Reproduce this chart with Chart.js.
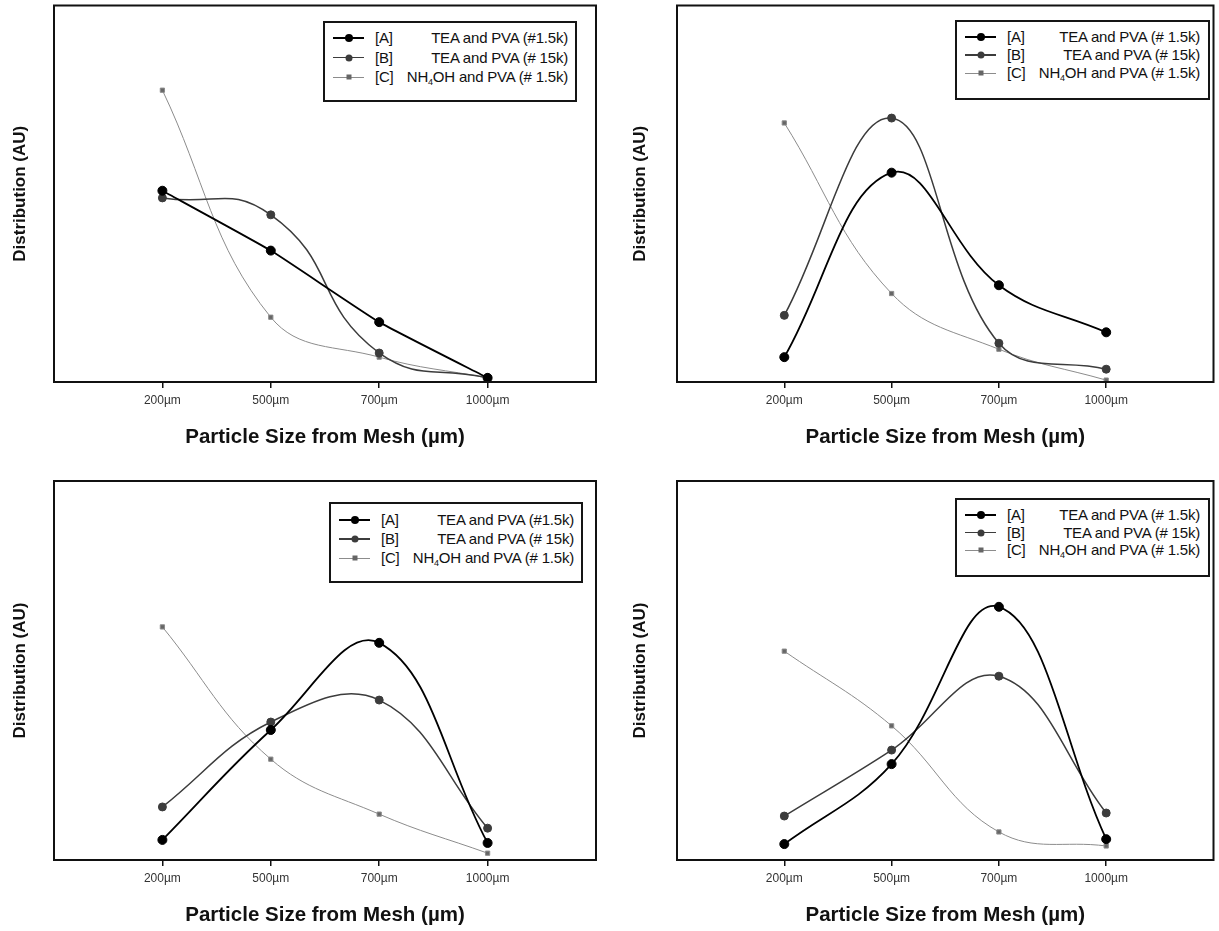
<!DOCTYPE html>
<html>
<head>
<meta charset="utf-8">
<script src="https://cdn.jsdelivr.net/npm/chart.js@4.4.1/dist/chart.umd.min.js"></script>
<style>
  body { margin: 0; background: #fff; font-family: "Liberation Sans", Arial, sans-serif; }
  .panel { position: absolute; }
  .legend { position: absolute; border: 2px solid #151515; background: #fff; box-sizing: border-box; font-size: 15px; color: #111; }
  .sample { position: absolute; }
  .sample .ln { position: absolute; left: 0; right: 0; top: 50%; }
  .sample .mk { position: absolute; left: 50%; top: 50%; transform: translate(-50%, -50%); border-radius: 50%; }
  .txt { position: absolute; display: flex; justify-content: space-between; white-space: pre; line-height: 18px; letter-spacing: -0.2px; }
  sub { font-size: 9px; vertical-align: -3px; line-height: 0; }
</style>
</head>
<body>
<div class="panel" style="left:0;top:0"><canvas id="c1" width="610" height="460"></canvas></div>
<div class="panel" style="left:620px;top:0"><canvas id="c2" width="599" height="460"></canvas></div>
<div class="panel" style="left:0;top:465px"><canvas id="c3" width="610" height="466"></canvas></div>
<div class="panel" style="left:620px;top:465px"><canvas id="c4" width="599" height="466"></canvas></div>
<script>
// x categories (mesh sizes)
const sizeLabels = ['200µm', '500µm', '700µm', '1000µm'];
const seriesTags = ['[A]', '[B]', '[C]'];

// distribution values (arbitrary units, 0 = axis, 100 = top of box)
// top left
const p1A = [50.8, 34.9, 15.9, 1.1];
const p1B = [48.9, 44.4, 7.7, 1.1];
const p1C = [77.5, 17.2, 6.6, 1.1];
// top right
const p2A = [6.6, 55.6, 25.7, 13.2];
const p2B = [17.7, 70.1, 10.3, 3.4];
const p2C = [68.8, 23.5, 8.7, 0.5];
// bottom left
const p3A = [5.3, 34.3, 57.3, 4.5];
const p3B = [14.0, 36.4, 42.2, 8.4];
const p3C = [61.5, 26.6, 12.1, 1.8];
// bottom right
const p4A = [4.2, 25.3, 66.8, 5.5];
const p4B = [11.6, 29.0, 48.5, 12.4];
const p4C = [55.1, 35.4, 7.4, 3.7];

// legend names, they differ a little from panel to panel
const namesP1 = ['TEA and PVA (#1.5k)', 'TEA and PVA (# 15k)', 'NH4OH and PVA (# 1.5k)'];
const namesP2 = ['TEA and PVA (# 1.5k)', 'TEA and PVA (# 15k)', 'NH4OH and PVA (# 1.5k)'];
const namesP3 = ['TEA and PVA (#1.5k)', 'TEA and PVA (# 15k)', 'NH4OH and PVA (# 1.5k)'];
const namesP4 = ['TEA and PVA (# 1.5k)', 'TEA and PVA (# 15k)', 'NH4OH and PVA (# 1.5k)'];

const styles = [
    { color: '#000000', fill: '#000000', width: 1.8, radius: 4.5, style: 'circle' },
    { color: '#3c3c3c', fill: '#3c3c3c', width: 1.5, radius: 4, style: 'circle' },
    { color: '#8c8c8c', fill: '#666666', width: 1, radius: 3, style: 'rect' }
];

const panels = [
    { id: 'c1', pad: { left: 0, top: 4, right: 14, bottom: 8 }, yw: 54,
      series: [p1A, p1B, p1C], names: namesP1, tension: [0.12, 0.5, 0.4],
      legend: { left: 323, top: 21, width: 254, height: 81, first: 17, gap: 19.5 } },
    { id: 'c2', pad: { left: 0, top: 4, right: 2, bottom: 8 }, yw: 57,
      series: [p2A, p2B, p2C], names: namesP2, tension: [0.4, 0.4, 0.4],
      legend: { left: 955, top: 20, width: 255, height: 80, first: 17, gap: 18 } },
    { id: 'c3', pad: { left: 0, top: 16, right: 14, bottom: 1 }, yw: 54,
      series: [p3A, p3B, p3C], names: namesP3, tension: [0.4, 0.4, 0.4],
      legend: { left: 329, top: 502, width: 254, height: 81, first: 18, gap: 19 } },
    { id: 'c4', pad: { left: 0, top: 16, right: 2, bottom: 1 }, yw: 57,
      series: [p4A, p4B, p4C], names: namesP4, tension: [0.4, 0.4, 0.4],
      legend: { left: 955, top: 498, width: 255, height: 79, first: 17, gap: 17.5 } }
];

Chart.defaults.font.family = '"Liberation Sans", Arial, sans-serif';

// black box round the plot area
const framePlugin = {
    id: 'frame',
    afterDraw(chart) {
        const { ctx, chartArea: a } = chart;
        ctx.save();
        ctx.strokeStyle = '#111';
        ctx.lineWidth = 2;
        ctx.strokeRect(a.left, a.top, a.right - a.left, a.bottom - a.top);
        ctx.restore();
    }
};

function makeChart(p) {
    const canvas = document.getElementById(p.id);
    return new Chart(canvas, {
        type: 'line',
        data: {
            datasets: p.series.map(function(vals, i) {
                const s = styles[i];
                return {
                    label: seriesTags[i],
                    data: vals.map(function(v, j) { return { x: j + 1, y: v }; }),
                    borderColor: s.color,
                    backgroundColor: s.fill,
                    borderWidth: s.width,
                    pointRadius: s.radius,
                    pointStyle: s.style,
                    pointBackgroundColor: s.fill,
                    pointBorderColor: s.color,
                    pointBorderWidth: 1,
                    tension: p.tension[i],
                    fill: false
                };
            })
        },
        options: {
            responsive: false,
            animation: false,
            layout: { padding: p.pad },
            plugins: { legend: { display: false }, tooltip: { enabled: false } },
            scales: {
                x: {
                    type: 'linear',
                    min: 0,
                    max: 5,
                    afterBuildTicks(s) { s.ticks = sizeLabels.map(function(_, i) { return { value: i + 1 }; }); },
                    afterFit(s) { s.height = 70; },
                    ticks: {
                        callback: function(v) { return sizeLabels[v - 1]; },
                        font: { size: 12 },
                        color: '#333',
                        padding: 5,
                        maxRotation: 0,
                        autoSkip: false
                    },
                    grid: { drawOnChartArea: false, drawTicks: true, tickLength: 6, color: '#111', lineWidth: 1.5 },
                    border: { display: false },
                    title: {
                        display: true,
                        text: 'Particle Size from Mesh (µm)',
                        font: { size: 20.5, weight: 'bold' },
                        color: '#111',
                        padding: { top: 0, bottom: 2 }
                    }
                },
                y: {
                    min: 0,
                    max: 100,
                    afterFit(s) { s.width = p.yw; },
                    ticks: { display: false },
                    grid: { display: false },
                    border: { display: false },
                    title: {
                        display: true,
                        text: 'Distribution (AU)',
                        font: { size: 17, weight: 'bold' },
                        color: '#111',
                        padding: { top: 10, bottom: 0 }
                    }
                }
            }
        },
        plugins: [framePlugin]
    });
}

function makeLegend(p) {
    const L = p.legend;
    const box = document.createElement('div');
    box.className = 'legend';
    box.style.left = L.left + 'px';
    box.style.top = L.top + 'px';
    box.style.width = L.width + 'px';
    box.style.height = L.height + 'px';
    p.names.forEach(function(name, i) {
        const s = styles[i];
        const cy = L.first + i * L.gap - 2;
        const sample = document.createElement('div');
        sample.className = 'sample';
        sample.style.left = '8px';
        sample.style.width = '31px';
        sample.style.top = (cy - 9) + 'px';
        sample.style.height = '18px';
        const ln = document.createElement('div');
        ln.className = 'ln';
        ln.style.height = s.width + 'px';
        ln.style.marginTop = (-s.width / 2) + 'px';
        ln.style.background = s.color;
        const mk = document.createElement('div');
        mk.className = 'mk';
        mk.style.width = mk.style.height = (s.radius * 2 - 1) + 'px';
        mk.style.background = s.fill;
        if (s.style === 'rect') mk.style.borderRadius = '0';
        sample.appendChild(ln);
        sample.appendChild(mk);
        box.appendChild(sample);

        const txt = document.createElement('div');
        txt.className = 'txt';
        txt.style.left = '50px';
        txt.style.width = '193px';
        txt.style.top = (cy - 9) + 'px';
        const tag = document.createElement('span');
        tag.textContent = seriesTags[i];
        const nm = document.createElement('span');
        nm.innerHTML = name.replace('NH4', 'NH<sub>4</sub>');
        txt.appendChild(tag);
        txt.appendChild(nm);
        box.appendChild(txt);
    });
    document.body.appendChild(box);
}

panels.forEach(function(p) {
    makeChart(p);
    makeLegend(p);
});
</script>
</body>
</html>
